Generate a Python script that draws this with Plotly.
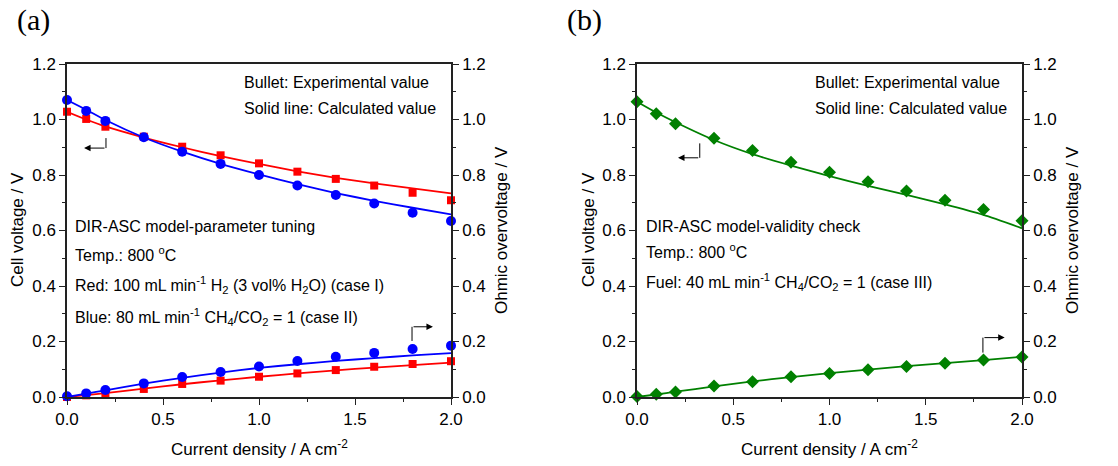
import plotly.graph_objects as go

# Current density points (A cm^-2)
current = [0.0, 0.1, 0.2, 0.4, 0.6, 0.8, 1.0, 1.2, 1.4, 1.6, 1.8, 2.0]

# (a) case I (H2) and case II (CH4/CO2 = 1)
v_exp_h2 = [1.028, 1.002, 0.974, 0.938, 0.902, 0.871, 0.842, 0.812, 0.786, 0.762, 0.736, 0.709]
v_calc_h2 = [1.028, 1.000, 0.975, 0.935, 0.900, 0.868, 0.840, 0.813, 0.790, 0.770, 0.752, 0.734]
v_exp_ch4 = [1.070, 1.031, 0.995, 0.936, 0.884, 0.840, 0.800, 0.762, 0.728, 0.697, 0.664, 0.634]
v_calc_ch4 = [1.070, 1.035, 0.998, 0.935, 0.884, 0.840, 0.802, 0.767, 0.735, 0.707, 0.682, 0.658]
ohm_exp_h2 = [0.000, 0.006, 0.012, 0.029, 0.047, 0.059, 0.073, 0.085, 0.097, 0.109, 0.119, 0.129]
ohm_calc_h2 = [0.000, 0.007, 0.014, 0.030, 0.046, 0.060, 0.073, 0.085, 0.096, 0.106, 0.115, 0.124]
ohm_exp_ch4 = [0.003, 0.013, 0.025, 0.049, 0.072, 0.090, 0.110, 0.130, 0.145, 0.159, 0.173, 0.185]
ohm_calc_ch4 = [0.000, 0.012, 0.024, 0.048, 0.069, 0.088, 0.105, 0.118, 0.130, 0.140, 0.150, 0.158]

# (b) case III (40 mL/min CH4/CO2 = 1)
v_exp_c3 = [1.064, 1.021, 0.985, 0.932, 0.888, 0.846, 0.810, 0.776, 0.742, 0.709, 0.676, 0.635]
v_calc_c3 = [1.064, 1.025, 0.990, 0.926, 0.875, 0.834, 0.796, 0.761, 0.728, 0.694, 0.656, 0.608]
ohm_exp_c3 = [0.002, 0.010, 0.018, 0.040, 0.055, 0.073, 0.085, 0.098, 0.110, 0.122, 0.133, 0.144]
ohm_calc_c3 = [0.000, 0.009, 0.019, 0.038, 0.056, 0.072, 0.086, 0.099, 0.111, 0.122, 0.133, 0.145]

RED = "#ff0000"
BLUE = "#0000ff"
GREEN = "#008000"
FONT = "Liberation Sans, Arial, sans-serif"

fig = go.Figure()


def add_pair(xa, ya, y_exp, y_calc, color, symbol, size):
    fig.add_trace(go.Scatter(x=current, y=y_calc, xaxis=xa, yaxis=ya, mode="lines",
                             line=dict(color=color, width=1.8, shape="spline", smoothing=0.6),
                             showlegend=False, cliponaxis=False))
    fig.add_trace(go.Scatter(x=current, y=y_exp, xaxis=xa, yaxis=ya, mode="markers",
                             marker=dict(color=color, symbol=symbol, size=size),
                             showlegend=False, cliponaxis=False))


add_pair("x", "y", v_exp_h2, v_calc_h2, RED, "square", 8)
add_pair("x", "y", v_exp_ch4, v_calc_ch4, BLUE, "circle", 10)
add_pair("x", "y2", ohm_exp_h2, ohm_calc_h2, RED, "square", 8)
add_pair("x", "y2", ohm_exp_ch4, ohm_calc_ch4, BLUE, "circle", 10)
add_pair("x2", "y3", v_exp_c3, v_calc_c3, GREEN, "diamond", 10)
add_pair("x2", "y4", ohm_exp_c3, ohm_calc_c3, GREEN, "diamond", 10)

ydom = [1 - 397 / 466, 1 - 64 / 466]
xdom_a = [67 / 1118, 451 / 1118]
xdom_b = [637 / 1118, 1022 / 1118]

tickfont = dict(family=FONT, size=17, color="black")


def xaxis_cfg(dom, anchor):
    return dict(domain=dom, anchor=anchor, range=[0, 2.0], dtick=0.5, tickformat=".1f",
                automargin=False,
                showgrid=False, zeroline=False, showline=True, linecolor="#222",
                linewidth=1.5, mirror=True, ticks="outside", ticklen=6, tickwidth=1.2,
                tickcolor="#222", tickfont=tickfont,
                minor=dict(ticks="outside", ticklen=3, dtick=0.25, tickcolor="#222",
                           tickwidth=1.2, showgrid=False))


def yaxis_cfg(anchor, side, overlaying=None):
    d = dict(domain=ydom, anchor=anchor, side=side, range=[0, 1.2], dtick=0.2,
             automargin=False,
             tickformat=".1f", showgrid=False, zeroline=False, showline=True,
             linecolor="#222", linewidth=1.5, ticks="outside", ticklen=6, tickwidth=1.2,
             tickcolor="#222", tickfont=tickfont,
             minor=dict(ticks="outside", ticklen=3, dtick=0.1, tickcolor="#222",
                        tickwidth=1.2, showgrid=False))
    if overlaying:
        d["overlaying"] = overlaying
    return d


fig.update_layout(
    width=1118, height=466,
    margin=dict(l=0, r=0, t=0, b=0, autoexpand=False),
    paper_bgcolor="white", plot_bgcolor="white",
    xaxis=xaxis_cfg(xdom_a, "y"),
    yaxis=yaxis_cfg("x", "left"),
    yaxis2=yaxis_cfg("x", "right", "y"),
    xaxis2=xaxis_cfg(xdom_b, "y3"),
    yaxis3=yaxis_cfg("x2", "left"),
    yaxis4=yaxis_cfg("x2", "right", "y3"),
)

ann = []
txt = dict(family=FONT, size=16, color="black")
title_font = dict(family=FONT, size=17, color="black")


def label(x, y, text, xref="paper", yref="paper", **kw):
    d = dict(x=x, y=y, xref=xref, yref=yref, text=text, showarrow=False, font=txt,
             xanchor="left", yanchor="middle")
    d.update(kw)
    ann.append(d)


def py(pix):
    return 1 - pix / 466


def px(pix):
    return pix / 1118


# Panel letters
letter_font = dict(family="Liberation Serif, Times New Roman, serif", size=30, color="black")
label(px(15), py(20), "(a)", font=letter_font)
label(px(565), py(20), "(b)", font=letter_font)

# Axis titles
for xl, xr, xc in [(17, 501, 259), (588, 1072, 829)]:
    label(px(xl), py(230), "Cell voltage / V", xanchor="center", textangle=-90, font=title_font)
    label(px(xr), py(230), "Ohmic overvoltage / V", xanchor="center", textangle=-90, font=title_font)
    label(px(xc), py(448), "Current density / A cm<sup>-2</sup>", xanchor="center", font=title_font)

# Panel (a) notes
label(px(242), py(82), "Bullet: Experimental value")
label(px(242), py(109), "Solid line: Calculated value")
label(px(73), py(226), "DIR-ASC model-parameter tuning")
label(px(73), py(254), "Temp.: 800 <sup>o</sup>C")
label(px(73), py(285), "Red: 100 mL min<sup>-1</sup> H<sub>2</sub> (3 vol% H<sub>2</sub>O) (case I)")
label(px(73), py(317), "Blue: 80 mL min<sup>-1</sup> CH<sub>4</sub>/CO<sub>2</sub> = 1 (case II)")

# Panel (b) notes
label(px(813), py(82), "Bullet: Experimental value")
label(px(813), py(109), "Solid line: Calculated value")
label(px(644), py(226), "DIR-ASC model-validity check")
label(px(644), py(251), "Temp.: 800 <sup>o</sup>C")
label(px(644), py(282), "Fuel: 40 mL min<sup>-1</sup> CH<sub>4</sub>/CO<sub>2</sub> = 1 (case III)")

# Axis-indicator arrows: vertical stub + horizontal arrow
arrows = [
    ("x", "y", 0.203, 0.933, 0.897, 0.089),
    ("x", "y2", 1.797, 0.202, 0.253, 1.906),
    ("x2", "y3", 0.326, 0.914, 0.862, 0.213),
    ("x2", "y4", 1.797, 0.160, 0.214, 1.910),
]
shapes = []
for xr_, yr_, xv, y0, y1, xend in arrows:
    shapes.append(dict(type="line", xref=xr_, yref=yr_, x0=xv, x1=xv, y0=y0, y1=y1,
                       line=dict(color="black", width=1)))
    ann.append(dict(x=xend, y=y1, ax=xv, ay=y1, xref=xr_, yref=yr_, axref=xr_, ayref=yr_,
                    text="", showarrow=True, arrowhead=2, arrowsize=1.3, arrowwidth=1,
                    arrowcolor="black"))

fig.update_layout(annotations=ann, shapes=shapes)

fig.write_html("out.html")
